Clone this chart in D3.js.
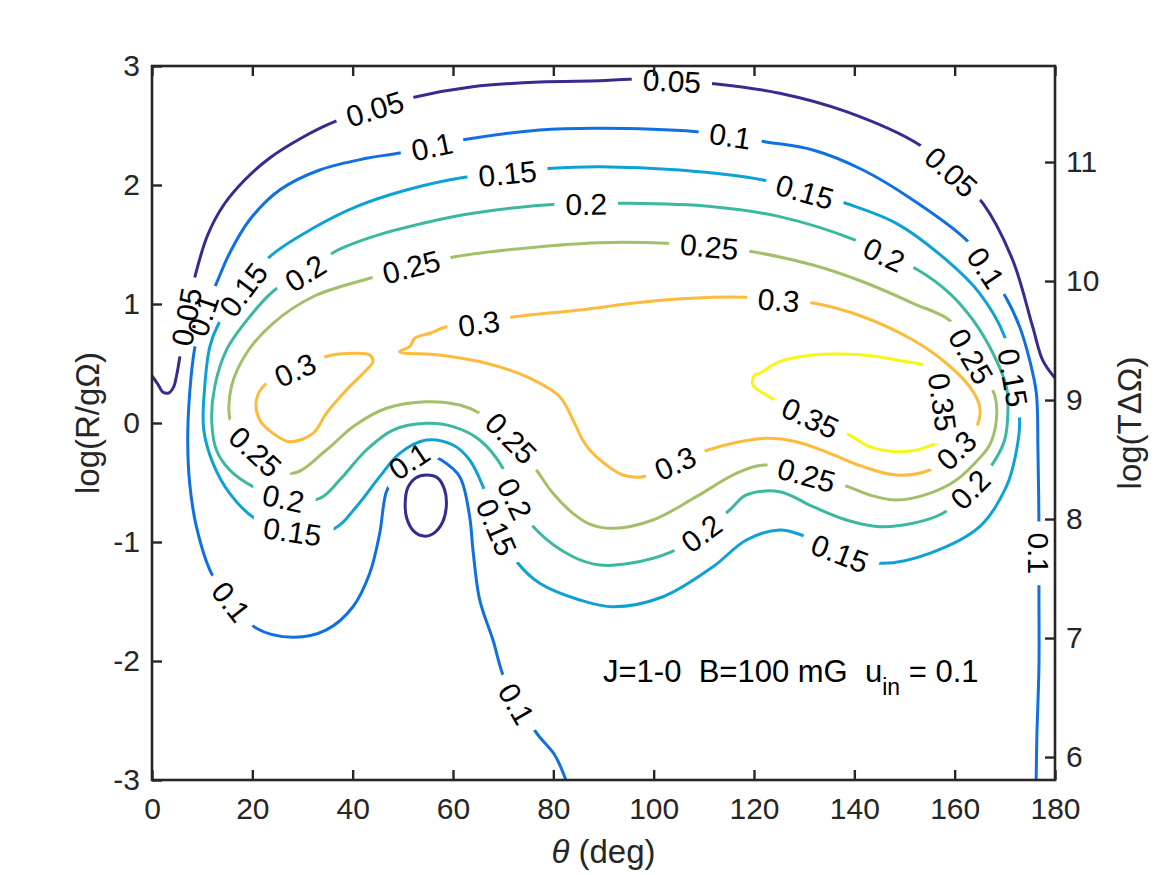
<!DOCTYPE html>
<html><head><meta charset="utf-8">
<script src="https://cdn.jsdelivr.net/npm/d3@7"></script>
<style>
body{margin:0;background:#fff;}
svg text{font-family:"Liberation Sans",Arial,Helvetica,sans-serif;}
</style></head><body>
<svg id="chart" width="1167" height="875"></svg>
<script>
// ---------- data ----------
const xTicks = [0,20,40,60,80,100,120,140,160,180];
const yTicks = [-3,-2,-1,0,1,2,3];
const y2Ticks = [6,7,8,9,10,11];
const y2Offset = 8.807;            // log(TΔΩ) = log(R/gΩ) + offset
const levels = [0.05,0.1,0.15,0.2,0.25,0.3,0.35];
const levelColors = ["#362b8e","#1170e0","#0ea1d6","#3bb8a0","#a4bf69","#fdbb3b","#f7f712"];

// contour lines: [theta (deg), log(R/gΩ)]
const c005Outer = [[0,0.395],[1.14,0.328],[2.13,0.261],[3.33,0.252],[4.32,0.303],[4.92,0.403],[5.52,0.546],[7.12,0.95],[8.91,1.286],[11.1,1.58],[14.28,1.832],[18.48,2.042],[23.46,2.227],[29.44,2.387],[36.42,2.532],[44.4,2.64],[52.7,2.742],[63.92,2.826],[77.28,2.866],[89.24,2.876],[95.22,2.888],[103.6,2.875],[112.5,2.849],[125.12,2.771],[138.41,2.616],[153.02,2.336],[159.3,2.11],[165.64,1.846],[171.56,1.37],[175.55,0.809],[177.54,0.529],[180,0.378]];
const c005Island = [[54.69,-0.437],[56.95,-0.462],[58.34,-0.563],[58.68,-0.689],[57.94,-0.832],[55.95,-0.933],[54.16,-0.95],[52.17,-0.908],[50.77,-0.798],[50.47,-0.672],[50.97,-0.546],[52.57,-0.462]];
const c010 = [[82.5,-3.0],[80.27,-2.79],[76.94,-2.622],[72.63,-2.356],[69.96,-2.118],[67.97,-1.824],[65.32,-1.487],[63.98,-1.067],[63.32,-0.787],[61.33,-0.451],[57.68,-0.311],[54.35,-0.252],[50.97,-0.328],[48.38,-0.462],[46.72,-0.577],[45.39,-0.927],[43.4,-1.263],[40.06,-1.544],[34.76,-1.739],[28.1,-1.801],[20.81,-1.725],[15.83,-1.502],[11.84,-1.263],[8.85,-0.871],[7.51,-0.507],[7.12,-0.143],[7.51,0.25],[8.51,0.628],[10.11,0.908],[12.84,1.174],[15.49,1.429],[19.47,1.708],[25.45,1.958],[33.43,2.126],[42.73,2.224],[49.03,2.266],[55.69,2.322],[62.67,2.384],[77.28,2.462],[89.24,2.476],[108.51,2.448],[115.35,2.412],[122.13,2.364],[131.75,2.294],[141.72,2.126],[151.68,1.874],[162.65,1.524],[166.31,1.3],[170.3,1.048],[172.95,0.809],[174.94,0.529],[176.28,0.25],[176.6,-0.227],[176.8,-0.871],[176.8,-1.46],[176.8,-2.048],[176.4,-2.608],[176.24,-3.0]];
const c015 = [[23.46,1.397],[32.09,1.636],[40.74,1.818],[50.71,1.958],[62.33,2.065],[70.96,2.098],[79.61,2.14],[89.24,2.154],[105.18,2.126],[121.78,2.042],[130.1,1.944],[138.73,1.84],[148.37,1.678],[158.34,1.37],[164.98,1.09],[169.96,0.725],[171.62,0.376],[172.95,0.011],[172.15,-0.269],[170.3,-0.535],[164.98,-0.871],[155.02,-1.095],[145.7,-1.179],[137.07,-1.095],[129.44,-0.941],[125.11,-0.899],[118.48,-0.983],[111.82,-1.208],[101.85,-1.46],[91.89,-1.544],[85.25,-1.487],[77.28,-1.347],[72.95,-1.179],[68.65,-0.871],[65.98,-0.535],[63.32,-0.311],[60.0,-0.185],[54.69,-0.143],[49.37,-0.255],[45.39,-0.451],[40.74,-0.703],[36.42,-0.885],[28.1,-0.913],[20.47,-0.801],[15.49,-0.591],[12.16,-0.339],[10.3,-0.05],[10.5,0.3],[11.53,0.641],[13.16,0.824],[18.14,1.118]];
const c020 = [[12.5,0.305],[14.83,0.613],[19.47,0.893],[24.46,1.118],[30.44,1.258],[36.42,1.439],[44.05,1.566],[54.02,1.678],[63.98,1.762],[81.26,1.84],[86.59,1.84],[94.88,1.846],[111.82,1.818],[125.11,1.734],[140.06,1.538],[146.04,1.412],[152.68,1.286],[158.99,1.09],[163.64,0.866],[167.63,0.586],[170.3,0.305],[170.62,0.109],[169.96,-0.143],[167.63,-0.339],[162.98,-0.563],[157.66,-0.759],[151.68,-0.843],[145.05,-0.871],[138.41,-0.815],[131.75,-0.703],[125.11,-0.577],[118.48,-0.605],[115.15,-0.731],[109.51,-0.927],[103.53,-1.082],[95.22,-1.179],[89.24,-1.193],[83.91,-1.124],[76.62,-0.899],[72.29,-0.633],[69.96,-0.381],[65.32,-0.143],[60.0,-0.031],[54.69,-0.003],[48.04,-0.059],[42.73,-0.227],[37.41,-0.479],[33.43,-0.633],[26.11,-0.633],[20.13,-0.535],[15.49,-0.395],[12.84,-0.227],[11.9,0.025]];
const c025 = [[15.49,0.039],[15.83,0.305],[18.82,0.586],[24.12,0.838],[32.09,1.061],[43.39,1.216],[51.7,1.313],[60.34,1.397],[70.64,1.454],[89.24,1.515],[102.53,1.51],[111.16,1.482],[119.79,1.439],[131.75,1.328],[141.72,1.187],[151.68,1.006],[159.34,0.851],[163.32,0.557],[167.97,0.235],[168.31,0.025],[166.97,-0.185],[164.98,-0.294],[160.34,-0.479],[155.02,-0.591],[148.37,-0.647],[143.05,-0.605],[138.73,-0.535],[130.44,-0.437],[122.13,-0.353],[116.48,-0.423],[108.51,-0.619],[99.86,-0.815],[91.89,-0.885],[87.25,-0.849],[83.91,-0.759],[79.93,-0.591],[76.62,-0.395],[71.64,-0.129],[65.32,0.082],[61.33,0.151],[54.69,0.179],[46.72,0.124],[40.06,-0.031],[34.76,-0.227],[27.79,-0.423],[20.67,-0.244],[16.48,-0.042]];
const c030Main = [[49.37,0.599],[51.37,0.641],[52.36,0.712],[55.35,0.754],[58.68,0.809],[65.32,0.838],[72.29,0.893],[85.25,0.95],[98.54,1.019],[111.82,1.056],[118.14,1.056],[124.77,1.034],[132.09,1.006],[141.72,0.893],[151.68,0.697],[158.34,0.502],[162.98,0.305],[164.98,0.137],[164.64,-0.003],[160.33,-0.227],[155.02,-0.395],[148.37,-0.437],[141.72,-0.367],[135.08,-0.255],[128.44,-0.157],[122.46,-0.129],[117.14,-0.157],[110.82,-0.227],[104.19,-0.339],[97.87,-0.451],[93.88,-0.437],[90.57,-0.353],[87.25,-0.227],[85.85,-0.143],[83.91,0.025],[81.26,0.221],[74.63,0.389],[66.65,0.502],[57.34,0.571]];
const c030Lobe = [[40.06,0.586],[43.39,0.571],[44.05,0.515],[42.73,0.445],[38.75,0.277],[34.76,0.082],[32.09,-0.087],[27.45,-0.157],[24.12,-0.087],[21.47,0.025],[20.81,0.193],[22.46,0.319],[28.44,0.445],[35.08,0.563]];
const c035 = [[121.12,0.418],[125.11,0.515],[131.75,0.571],[141.72,0.571],[148.37,0.529],[155.67,0.445],[157.6,0.168],[157.34,-0.129],[153.68,-0.213],[148.37,-0.241],[143.05,-0.199],[138.41,-0.087],[130.44,0.059],[122.46,0.235],[119.79,0.319],[120.13,0.403]];

const contours = [
  {level:0.05, closed:false, pts:c005Outer},
  {level:0.05, closed:true,  pts:c005Island},
  {level:0.1,  closed:false, pts:c010},
  {level:0.15, closed:true,  pts:c015},
  {level:0.2,  closed:true,  pts:c020},
  {level:0.25, closed:true,  pts:c025},
  {level:0.3,  closed:true,  pts:c030Main},
  {level:0.3,  closed:true,  pts:c030Lobe},
  {level:0.35, closed:true,  pts:c035}
];

// inline contour labels: [level, theta, log(R/gΩ)]
const contourLabels = [
 [0.05,44.4,2.63],[0.05,103.6,2.87],[0.05,159.3,2.11],[0.05,6.9,0.89],
 [0.1,55.7,2.32],[0.1,115.3,2.41],[0.1,166.3,1.30],[0.1,176.8,-1.10],[0.1,10.1,0.90],[0.1,15.8,-1.50],[0.1,51.4,-0.33],[0.1,72.6,-2.36],
 [0.15,18.1,1.12],[0.15,71.0,2.10],[0.15,130.1,1.94],[0.15,171.6,0.38],[0.15,137.1,-1.10],[0.15,68.7,-0.87],[0.15,28.1,-0.91],
 [0.2,30.4,1.26],[0.2,86.6,1.83],[0.2,146.0,1.41],[0.2,163.0,-0.56],[0.2,109.5,-0.93],[0.2,72.3,-0.63],[0.2,26.1,-0.63],
 [0.25,51.7,1.31],[0.25,111.2,1.48],[0.25,163.3,0.56],[0.25,130.4,-0.44],[0.25,71.6,-0.13],[0.25,20.7,-0.24],
 [0.3,28.4,0.445],[0.3,65.3,0.84],[0.3,124.8,1.03],[0.3,160.3,-0.23],[0.3,104.2,-0.34],
 [0.35,157.6,0.17],[0.35,131.0,0.02]
];

// ---------- layout ----------
const W = 1167, H = 875;
const PL = 152, PR = 1055, PT = 66, PB = 780;
const AX = "#262626";
const FS = 30;

const x = d3.scaleLinear().domain([0,180]).range([PL,PR]);
const y = d3.scaleLinear().domain([-3,3]).range([PB,PT]);
const y2 = d3.scaleLinear().domain([-3+y2Offset, 3+y2Offset]).range([PB,PT]);

const svg = d3.select("#chart");
svg.append("rect").attr("width",W).attr("height",H).attr("fill","#fff");
const defs = svg.append("defs");
defs.append("clipPath").attr("id","plotClip").append("rect")
  .attr("x",PL).attr("y",PT).attr("width",PR-PL).attr("height",PB-PT);

const masks = {};
levels.forEach((lv,i)=>{
  const m = defs.append("mask").attr("id","mask"+i).attr("maskUnits","userSpaceOnUse")
    .attr("x",0).attr("y",0).attr("width",W).attr("height",H);
  m.append("rect").attr("x",0).attr("y",0).attr("width",W).attr("height",H).attr("fill","#fff");
  masks[lv] = m;
});

const lineOpen = d3.line().x(d=>x(d[0])).y(d=>y(d[1])).curve(d3.curveCatmullRom.alpha(0.5));
const lineClosed = d3.line().x(d=>x(d[0])).y(d=>y(d[1])).curve(d3.curveCatmullRomClosed.alpha(0.5));

const gLines = svg.append("g").attr("clip-path","url(#plotClip)");
const pathInfo = [];
contours.forEach(c=>{
  const i = levels.indexOf(c.level);
  const p = gLines.append("path").datum(c.pts)
    .attr("d", c.closed ? lineClosed : lineOpen)
    .attr("fill","none").attr("stroke",levelColors[i]).attr("stroke-width",3)
    .attr("stroke-linejoin","round").attr("stroke-linecap","butt");
  const node = p.node();
  const total = node.getTotalLength();
  const samples = [];
  for(let L=0; L<=total; L+=1.5){ const q=node.getPointAtLength(L); samples.push([L,q.x,q.y]); }
  pathInfo.push({level:c.level, closed:c.closed, node, total, samples, sel:p, idx:i});
});

// labels
const gLab = svg.append("g");
contourLabels.forEach(([lv,th,lr])=>{
  const px = x(th), py = y(lr);
  let best = null;
  pathInfo.filter(p=>p.level===lv).forEach(p=>{
    p.samples.forEach(s=>{
      const d = (s[1]-px)**2+(s[2]-py)**2;
      if(!best || d<best.d) best = {d, L:s[0], p};
    });
  });
  const t = gLab.append("text").attr("font-size",FS).attr("fill","#000")
    .attr("text-anchor","middle").attr("dy","0.36em").text(String(lv));
  const w = t.node().getComputedTextLength();
  const p = best.p;
  const at = L => {
    if(p.closed){ L = ((L % p.total)+p.total)%p.total; }
    else { L = Math.max(0, Math.min(p.total, L)); }
    return p.node.getPointAtLength(L);
  };
  const c = at(best.L), a1 = at(best.L - w/2 - 4), a2 = at(best.L + w/2 + 4);
  let ang = Math.atan2(a2.y-a1.y, a2.x-a1.x)*180/Math.PI;
  if(ang > 92) ang -= 180;
  if(ang <= -88) ang += 180;
  const tr = `translate(${c.x},${c.y}) rotate(${ang})`;
  t.attr("transform", tr);
  masks[lv].append("rect").attr("transform",tr)
    .attr("x",-(w/2+11)).attr("y",-14).attr("width",w+22).attr("height",28).attr("fill","#000");
});
pathInfo.forEach(p=>p.sel.attr("mask",`url(#mask${p.idx})`));

// ---------- axes ----------
function styleAxis(g){
  g.select(".domain").remove();
  g.selectAll(".tick line").attr("stroke",AX).attr("stroke-width",2.4);
  g.selectAll(".tick text").attr("fill",AX).attr("font-size",FS)
    .attr("font-family",'"Liberation Sans",Arial,Helvetica,sans-serif');
}
const fmt = d=>String(d);
svg.append("g").attr("transform",`translate(0,${PB})`)
  .call(d3.axisBottom(x).tickValues(xTicks).tickFormat(fmt).tickSizeInner(-10).tickSizeOuter(0).tickPadding(18))
  .call(styleAxis);
svg.append("g").attr("transform",`translate(0,${PT})`)
  .call(d3.axisTop(x).tickValues(xTicks).tickFormat("").tickSizeInner(-10).tickSizeOuter(0))
  .call(styleAxis);
svg.append("g").attr("transform",`translate(${PL},0)`)
  .call(d3.axisLeft(y).tickValues(yTicks).tickFormat(fmt).tickSizeInner(-10).tickSizeOuter(0).tickPadding(12))
  .call(styleAxis);
svg.append("g").attr("transform",`translate(${PR},0)`)
  .call(d3.axisRight(y2).tickValues(y2Ticks).tickFormat(fmt).tickSizeInner(-10).tickSizeOuter(0).tickPadding(11))
  .call(styleAxis);

// frame
svg.append("rect").attr("x",PL).attr("y",PT).attr("width",PR-PL).attr("height",PB-PT)
  .attr("fill","none").attr("stroke",AX).attr("stroke-width",2.6);

// axis titles
const xl = svg.append("text").attr("x",(PL+PR)/2).attr("y",863).attr("text-anchor","middle")
  .attr("font-size",33).attr("fill",AX);
xl.append("tspan").attr("font-style","italic").text("θ");
xl.append("tspan").text(" (deg)");
svg.append("text").attr("transform",`translate(99,${y(0)}) rotate(-90)`).attr("text-anchor","middle")
  .attr("font-size",33).attr("fill",AX).text("log(R/gΩ)");
svg.append("text").attr("transform",`translate(1141,${y(0)}) rotate(-90)`).attr("text-anchor","middle")
  .attr("font-size",33).attr("fill",AX).text("log(TΔΩ)");

// annotation
const ann = svg.append("text").attr("x",603).attr("y",682).attr("font-size",31).attr("fill","#000")
  .style("white-space","pre");
ann.append("tspan").text("J=1-0  B=100 mG  u");
ann.append("tspan").attr("font-size",23).attr("dy",13).text("in");
ann.append("tspan").attr("dy",-13).text(" = 0.1");
</script>
</body></html>
